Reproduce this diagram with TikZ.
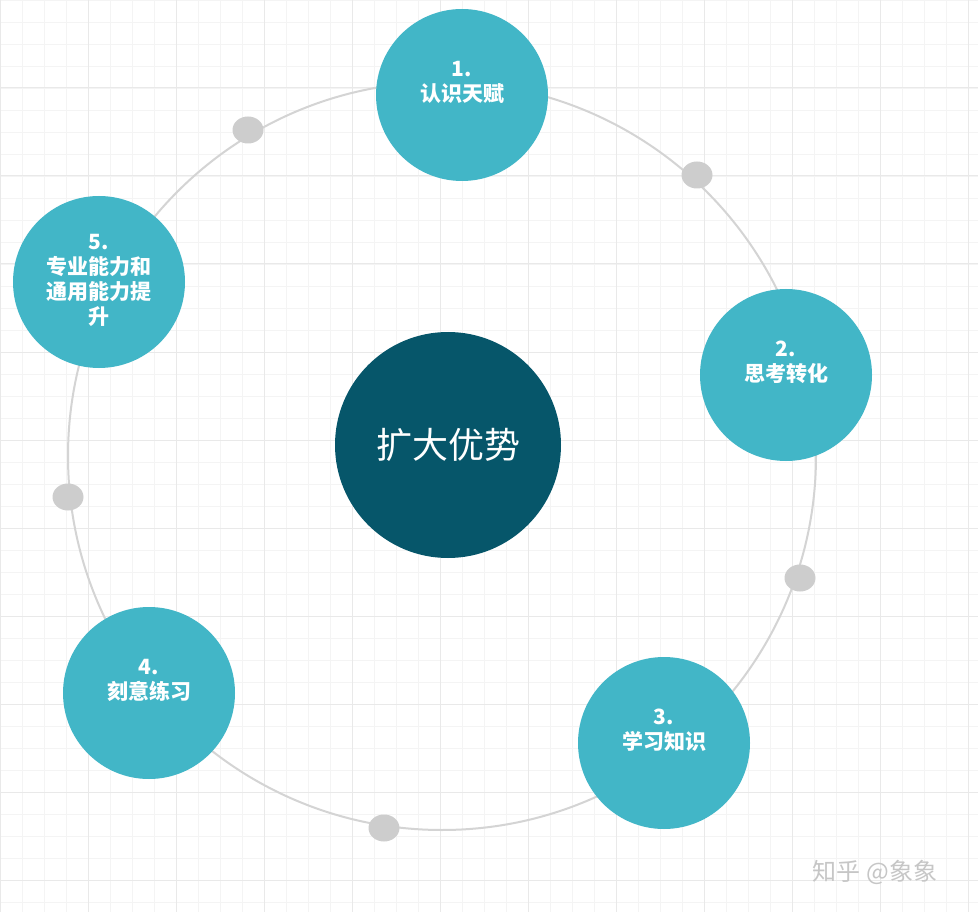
\documentclass[tikz,border=0pt]{standalone}
\usepackage{fontspec}
\setmainfont{Noto Sans CJK SC}
\usetikzlibrary{shapes.geometric}
\begin{document}
\begin{tikzpicture}[x=1pt,y=-1pt,
  petal/.style={circle,fill=petalc,minimum size=172pt,inner sep=0pt},
  ptext/.style={text=white,font=\bfseries\fontsize{21}{25}\selectfont,align=center,inner sep=0pt},
  dot/.style={ellipse,fill=dotc,minimum width=31pt,minimum height=27pt,inner sep=0pt}]
\definecolor{petalc}{HTML}{42B6C7}
\definecolor{corec}{HTML}{06566A}
\definecolor{dotc}{HTML}{CDCDCD}
\definecolor{ringc}{HTML}{D4D4D4}
\useasboundingbox (0,0) rectangle (978,912);
\fill[white] (0,0) rectangle (978,912);
\foreach \i in {0,22,...,978} \draw[gray!9,line width=0.8pt] (\i,0) -- (\i,912);
\foreach \i in {0,22,...,912} \draw[gray!9,line width=0.8pt] (0,\i) -- (978,\i);
\foreach \i in {0,88,...,978} \draw[gray!17,line width=1pt] (\i,0) -- (\i,912);
\foreach \i in {0,88,...,912} \draw[gray!17,line width=1pt] (0,\i) -- (978,\i);
\node[draw=ringc,line width=2pt,circle,minimum size=748pt,inner sep=0pt] (ring) at (442,456) {};
\node[dot] (d1) at (248,130) {};
\node[dot] (d2) at (697,175) {};
\node[dot] (d3) at (800,578) {};
\node[dot] (d4) at (384,828) {};
\node[dot] (d5) at (68,497) {};
\node[petal] (p1) at (462,95) {};
\node[petal] (p2) at (786,375) {};
\node[petal] (p3) at (664,743) {};
\node[petal] (p4) at (149,693) {};
\node[petal] (p5) at (99,282) {};
\node[ptext] (t1) at ([yshift=13pt]p1.center) {1.\\认识天赋};
\node[ptext] (t2) at ([yshift=13pt]p2.center) {2.\\思考转化};
\node[ptext] (t3) at ([yshift=13pt]p3.center) {3.\\学习知识};
\node[ptext] (t4) at ([yshift=13pt]p4.center) {4.\\刻意练习};
\node[ptext] (t5) at ([yshift=2pt]p5.center) {5.\\专业能力和\\通用能力提\\升};
\node[circle,fill=corec,minimum size=226pt,inner sep=0pt,text=white,font=\fontsize{36}{42}\selectfont] (core) at (448,445) {扩大优势};
\node[text=gray!45,font=\fontsize{24}{28}\selectfont] (wm) at (875,872) {知乎 @象象};
\end{tikzpicture}
\end{document}
